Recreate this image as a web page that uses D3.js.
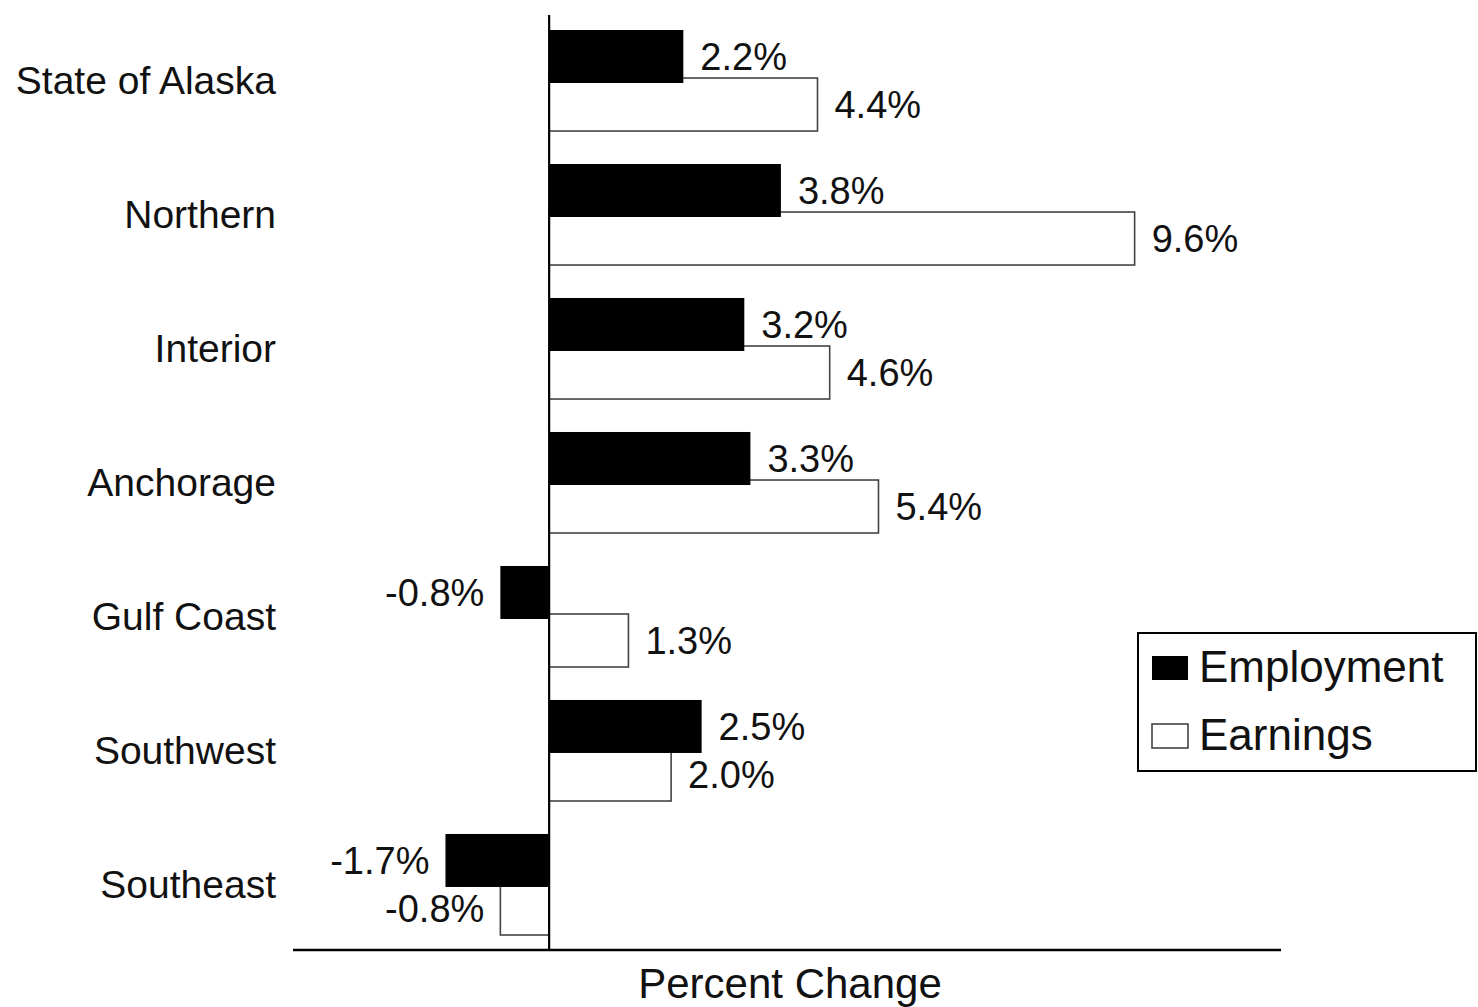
<!DOCTYPE html>
<html><head><meta charset="utf-8">
<script src="https://cdn.jsdelivr.net/npm/d3@7"></script>
<style>body{margin:0;background:#fff;} svg{display:block;}</style>
</head><body>
<svg id="c" width="1478" height="1007"></svg>
<script>
const categories = ["State of Alaska","Northern","Interior","Anchorage","Gulf Coast","Southwest","Southeast"];
const employment = [2.2, 3.8, 3.2, 3.3, -0.8, 2.5, -1.7];
const earnings   = [4.4, 9.6, 4.6, 5.4, 1.3, 2.0, -0.8];
const seriesNames = ["Employment","Earnings"];
const axisTitle = "Percent Change";

const font = "'Liberation Sans', Arial, Helvetica, sans-serif";
const svg = d3.select("#c");
const x = d3.scaleLinear().domain([-4.2, 12]).range([293, 1281]);
const y = d3.scaleBand().domain(categories).range([30, 935]).paddingInner(0.246).paddingOuter(0);
const barH = 53;
const sub = d3.scaleOrdinal().domain(seriesNames).range([0, y.bandwidth() - barH]);

const rows = categories.map((c, i) => ({c, emp: employment[i], earn: earnings[i]}));

// earnings bars (white, outlined)
svg.append("g").selectAll("rect").data(rows).join("rect")
  .attr("x", d => x(Math.min(0, d.earn)))
  .attr("width", d => Math.abs(x(d.earn) - x(0)))
  .attr("y", d => y(d.c) + sub("Earnings"))
  .attr("height", barH)
  .attr("fill", "#fff").attr("stroke", "#444").attr("stroke-width", 1.6);

// employment bars (black)
svg.append("g").selectAll("rect").data(rows).join("rect")
  .attr("x", d => x(Math.min(0, d.emp)))
  .attr("width", d => Math.abs(x(d.emp) - x(0)))
  .attr("y", d => y(d.c) + sub("Employment"))
  .attr("height", barH)
  .attr("fill", "#000");

// zero line and axis line
svg.append("line").attr("x1", x(0)).attr("x2", x(0)).attr("y1", 15).attr("y2", 950)
  .attr("stroke", "#000").attr("stroke-width", 2.2);
svg.append("line").attr("x1", x(-4.2)).attr("x2", x(12)).attr("y1", 950).attr("y2", 950)
  .attr("stroke", "#000").attr("stroke-width", 2.5);

// value labels
function labels(key, series) {
  svg.append("g").selectAll("text").data(rows).join("text")
    .attr("x", d => d[key] >= 0 ? x(d[key]) + 17 : x(d[key]) - 16)
    .attr("y", d => y(d.c) + sub(series) + 30)
    .attr("dominant-baseline", "middle")
    .attr("text-anchor", d => d[key] >= 0 ? "start" : "end")
    .attr("font-family", font).attr("font-size", 38).attr("fill", "#111")
    .text(d => d[key].toFixed(1) + "%");
}
labels("emp", "Employment");
labels("earn", "Earnings");

// category labels
svg.append("g").selectAll("text").data(categories).join("text")
  .attr("x", 276)
  .attr("y", d => y(d) + y.bandwidth() / 2 + 3)
  .attr("dominant-baseline", "middle")
  .attr("text-anchor", "end")
  .attr("font-family", font).attr("font-size", 39).attr("fill", "#111")
  .text(d => d);

// axis title
svg.append("text").attr("x", 790).attr("y", 998).attr("text-anchor", "middle")
  .attr("font-family", font).attr("font-size", 42).attr("fill", "#111").text(axisTitle);

// legend
const lg = svg.append("g");
lg.append("rect").attr("x", 1138).attr("y", 633).attr("width", 338).attr("height", 138)
  .attr("fill", "#fff").attr("stroke", "#000").attr("stroke-width", 2);
const ly = d3.scaleOrdinal().domain(seriesNames).range([668, 736]);
lg.selectAll("rect.sw").data(seriesNames).join("rect").attr("class", "sw")
  .attr("x", 1152).attr("y", d => ly(d) - 12).attr("width", 36).attr("height", 24)
  .attr("fill", d => d === "Employment" ? "#000" : "#fff")
  .attr("stroke", d => d === "Employment" ? "none" : "#444").attr("stroke-width", 1.6);
lg.selectAll("text").data(seriesNames).join("text")
  .attr("x", 1199).attr("y", d => ly(d) + 2).attr("dominant-baseline", "middle")
  .attr("font-family", font).attr("font-size", 44).attr("fill", "#111").text(d => d);
</script>
</body></html>
